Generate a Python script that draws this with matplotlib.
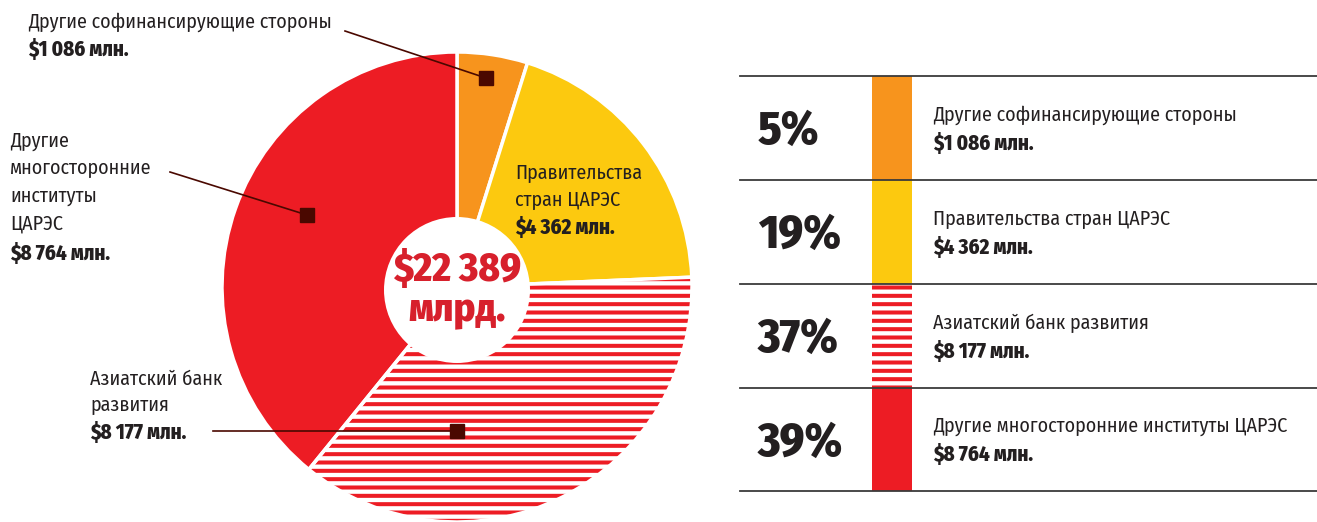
import matplotlib
matplotlib.use("Agg")
import matplotlib.pyplot as plt
from matplotlib.patches import Wedge, Rectangle, Circle

plt.rcParams['font.family'] = ['Fira Sans Condensed', 'DejaVu Sans']
plt.rcParams['hatch.linewidth'] = 2.9

# ---- data ----
categories = ["Другие софинансирующие стороны", "Правительства стран ЦАРЭС",
              "Азиатский банк развития", "Другие многосторонние институты ЦАРЭС"]
values = [1086, 4362, 8177, 8764]
value_labels = ["$1 086 млн.", "$4 362 млн.", "$8 177 млн.", "$8 764 млн."]
percent_labels = ["5%", "19%", "37%", "39%"]
total_label = ["$22 389", "млрд."]
colors = ["#F7941D", "#FCC90F", "#ED1C24", "#ED1C24"]
hatched = [False, False, True, False]

RED = "#ED1C24"
TXT = "#231F20"
DARK = "#4A0800"

W, H = 1317, 522
fig = plt.figure(figsize=(W / 100, H / 100), dpi=100)
ax = fig.add_axes([0, 0, 1, 1])

def Y(y):
    return H - y

cx, cy, R = 457, Y(287), 235
wedges, _ = ax.pie(values, colors=colors, startangle=90, counterclock=False,
                   center=(cx, cy), radius=R, frame=True,
                   wedgeprops=dict(edgecolor='white', linewidth=2.5))
ax.set_xlim(0, W)
ax.set_ylim(0, H)
ax.set_aspect('equal')
ax.axis('off')
for w, h in zip(wedges, hatched):
    if h:
        w.set_facecolor('white')
        w.set_edgecolor(RED)
        w.set_linewidth(0)
        w.set_hatch('--')
        ax.add_patch(Wedge(w.center, w.r, w.theta1, w.theta2, fill=False,
                           edgecolor='white', linewidth=2.5, zorder=w.get_zorder() + 0.1))

ax.add_patch(Circle((cx, Y(290)), 73, facecolor='white', edgecolor='none', zorder=5))
ax.text(cx, Y(270), total_label[0], ha='center', va='center', fontsize=29,
        fontweight=800, color="#D7202C", zorder=6)
ax.text(cx, Y(311), total_label[1], ha='center', va='center', fontsize=29,
        fontweight=800, color="#D7202C", zorder=6)

# leader lines + markers
leaders = [((345, 31), (486, 78)), ((170, 172), (307, 215)), ((213, 431), (457, 431))]
for (x0, y0), (x1, y1) in leaders:
    ax.plot([x0, x1], [Y(y0), Y(y1)], color=DARK, lw=1.2, zorder=7)
    ax.plot([x1], [Y(y1)], marker='s', ms=9.5, color=DARK, mec=DARK, zorder=8)

fs = 14.4
fb = 15
BW = 800
# pie labels
ax.text(28, Y(22), categories[0], fontsize=fs, color=TXT, va='center', ha='left')
ax.text(28, Y(49), value_labels[0], fontsize=fb, color=TXT, va='center', ha='left', fontweight=BW)

for i, t in enumerate(["Правительства", "стран ЦАРЭС"]):
    ax.text(515, Y(173 + 27 * i), t, fontsize=fs, color=TXT, va='center', ha='left', zorder=6)
ax.text(515, Y(227), value_labels[1], fontsize=fb, color=TXT, va='center', ha='left',
        fontweight=BW, zorder=6)

for i, t in enumerate(["Другие", "многосторонние", "институты", "ЦАРЭС"]):
    ax.text(10, Y(141 + 27.5 * i), t, fontsize=fs, color=TXT, va='center', ha='left')
ax.text(10, Y(253), value_labels[3], fontsize=fb, color=TXT, va='center', ha='left', fontweight=BW)

for i, t in enumerate(["Азиатский банк", "развития"]):
    ax.text(90, Y(379 + 26 * i), t, fontsize=fs, color=TXT, va='center', ha='left')
ax.text(90, Y(432), value_labels[2], fontsize=fb, color=TXT, va='center', ha='left', fontweight=BW)

# legend table
rows = [76, 180, 284, 388, 491]
for y in rows:
    ax.plot([740, W], [Y(y), Y(y)], color="#3A3A3A", lw=1.3, zorder=3)
for i in range(4):
    top, bot = rows[i], rows[i + 1]
    if hatched[i]:
        rect = Rectangle((872, Y(bot)), 40, bot - top, facecolor='white', edgecolor=RED,
                         linewidth=0, hatch='--', zorder=2)
    else:
        rect = Rectangle((872, Y(bot)), 40, bot - top, facecolor=colors[i], edgecolor='none', zorder=2)
    ax.add_patch(rect)
    mid = (top + bot) / 2
    ax.text(758, Y(mid + 4), percent_labels[i], fontsize=34, fontweight=800, color=TXT,
            ha='left', va='center')
    ax.text(933, Y(mid - 13), categories[i], fontsize=fs, color=TXT, ha='left', va='center')
    ax.text(933, Y(mid + 15), value_labels[i], fontsize=fb, color=TXT, ha='left', va='center',
            fontweight=BW)

fig.savefig("out.png", dpi=100)
